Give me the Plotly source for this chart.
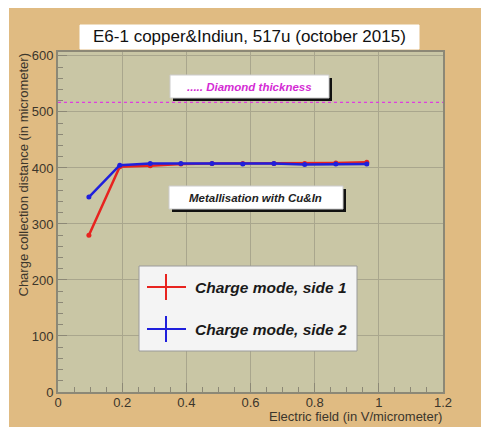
import plotly.graph_objects as go

# Measured charge collection distance vs electric field
field = [0.0963, 0.1925, 0.2875, 0.383, 0.48, 0.576, 0.673, 0.769, 0.866, 0.9625]
side1 = [280, 402, 404, 407, 408, 408, 408, 408, 409, 410]
side2 = [348, 405, 408, 408, 408, 407, 408, 406, 407, 407]
series_names = ["Charge mode, side 1", "Charge mode, side 2"]
series_colors = ["#e8231f", "#1f1fdc"]
diamond_thickness = 517
x_range = [0, 1.2]
y_range = [0, 607]
x_ticks = [0, 0.2, 0.4, 0.6, 0.8, 1, 1.2]
y_ticks = [0, 100, 200, 300, 400, 500, 600]

W, H = 481, 427
L, R, T, B = 58, 443, 52, 392  # plot frame in pixels

ORANGE = "#e0bb82"
OLIVE = "#c9c6a5"
GRID = "#a9a68d"
FRAME = "#8c8876"
TXT = "#3b362c"
FONT = "Liberation Sans, Arial, sans-serif"


def px(x):
    return (x - L) / (R - L)


def py(y):
    return (B - y) / (B - T)


fig = go.Figure()

# dotted line for the diamond thickness
fig.add_trace(go.Scatter(
    x=x_range, y=[diamond_thickness] * 2, mode="lines",
    line=dict(color="#e03ce0", width=1.2, dash="dot"),
    hoverinfo="skip", showlegend=False))

for ys, name, col in zip([side1, side2], series_names, series_colors):
    fig.add_trace(go.Scatter(
        x=field, y=ys, mode="lines+markers", name=name,
        line=dict(color=col, width=2.5),
        marker=dict(color=col, size=5),
        showlegend=False))

shapes = []
annotations = []

# white strips at the top and left edges, orange page behind the frame
shapes.append(dict(type="rect", xref="paper", yref="paper",
                   x0=px(0), x1=px(W), y0=py(0), y1=py(8),
                   fillcolor="white", line_width=0, layer="below"))
shapes.append(dict(type="rect", xref="paper", yref="paper",
                   x0=px(0), x1=px(9), y0=py(0), y1=py(H),
                   fillcolor="white", line_width=0, layer="below"))


def boxed_text(x0, y0, x1, y1, text, size, color, shadow=True,
               border=None, fill="white"):
    if shadow:
        shapes.append(dict(type="rect", xref="paper", yref="paper",
                           x0=px(x0 + 3), x1=px(x1 + 3), y0=py(y0 + 3), y1=py(y1 + 3),
                           fillcolor="#111111", line_width=0, layer="above"))
    shapes.append(dict(type="rect", xref="paper", yref="paper",
                       x0=px(x0), x1=px(x1), y0=py(y0), y1=py(y1),
                       fillcolor=fill,
                       line=dict(color=border or fill, width=1),
                       layer="above"))
    if text:
        annotations.append(dict(xref="paper", yref="paper",
                                x=px((x0 + x1) / 2), y=py((y0 + y1) / 2),
                                text=text, showarrow=False,
                                font=dict(family=FONT, size=size, color=color),
                                xanchor="center", yanchor="middle"))


# title box
boxed_text(80, 25, 419, 49, "E6-1 copper&Indiun, 517u (october 2015)",
           17, "#111111", shadow=False)

# labels inside the frame
boxed_text(170, 75, 329, 98, "<b><i>..... Diamond thickness</i></b>",
           11.5, "#d42bd4", border="#cccccc")
boxed_text(169, 186, 343, 209, "<b><i>Metallisation with Cu&In</i></b>",
           11.5, "#222222", border="#cccccc")

# legend
boxed_text(139, 266, 357, 351, "", 14, TXT, shadow=False,
           border="#9a9a9a", fill="#f4f4f4")
for i, (name, col) in enumerate(zip(series_names, series_colors)):
    yc = 287 + i * 42
    shapes.append(dict(type="line", xref="paper", yref="paper",
                       x0=px(147), x1=px(186), y0=py(yc), y1=py(yc),
                       line=dict(color=col, width=2), layer="above"))
    shapes.append(dict(type="line", xref="paper", yref="paper",
                       x0=px(166), x1=px(166), y0=py(yc - 13), y1=py(yc + 13),
                       line=dict(color=col, width=2), layer="above"))
    annotations.append(dict(xref="paper", yref="paper", x=px(193), y=py(yc),
                            text=f"<b><i>{name}</i></b>", showarrow=False,
                            font=dict(family=FONT, size=15.5, color="#1a1a1a"),
                            xanchor="left", yanchor="middle"))

# axis titles
annotations.append(dict(xref="paper", yref="paper", x=px(23), y=py(52),
                        text="Charge collection distance (in micrometer)",
                        textangle=-90, showarrow=False,
                        font=dict(family=FONT, size=13, color=TXT),
                        xanchor="center", yanchor="top"))
annotations.append(dict(xref="paper", yref="paper", x=px(444), y=py(416),
                        text="Electric field (in V/micrometer)", showarrow=False,
                        font=dict(family=FONT, size=13, color=TXT),
                        xanchor="right", yanchor="middle"))

axis_common = dict(
    ticks="inside", ticklen=9, tickwidth=1, tickcolor=FRAME,
    showgrid=True, gridcolor=GRID, gridwidth=1,
    showline=True, linecolor=FRAME, linewidth=2, mirror=True,
    zeroline=False,
    tickfont=dict(family=FONT, size=13, color=TXT),
)

fig.update_layout(
    width=W, height=H,
    margin=dict(l=L, r=W - R, t=T, b=H - B, pad=0),
    paper_bgcolor=ORANGE, plot_bgcolor=OLIVE,
    showlegend=False,
    shapes=shapes, annotations=annotations,
    xaxis=dict(range=x_range, tickvals=x_ticks, ticklabelstandoff=-3,
               minor=dict(dtick=0.05, ticks="inside", ticklen=5,
                          tickcolor=FRAME, showgrid=False),
               **axis_common),
    yaxis=dict(range=y_range, tickvals=y_ticks,
               minor=dict(dtick=20, ticks="inside", ticklen=5,
                          tickcolor=FRAME, showgrid=False),
               **axis_common),
)

fig.write_html("out.html")
